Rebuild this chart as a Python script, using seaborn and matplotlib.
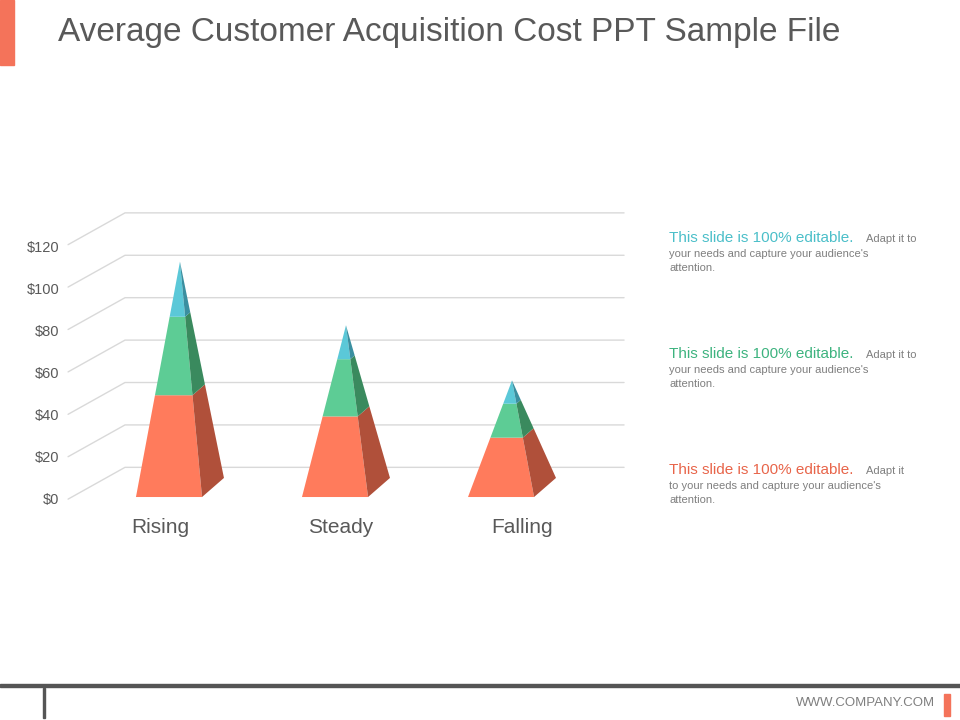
import matplotlib
matplotlib.use("Agg")
import matplotlib.pyplot as plt
import seaborn as sns
from matplotlib.patches import Rectangle

categories = ["Rising", "Steady", "Falling"]
bottom_vals = [48, 38, 28]
middle_vals = [37, 27, 16]
top_vals = [26, 16, 11]
tick_values = [0, 20, 40, 60, 80, 100, 120]
tick_labels = ["$0", "$20", "$40", "$60", "$80", "$100", "$120"]

sns.set_theme(style="white", font="Liberation Sans")
fig = plt.figure(figsize=(9.6, 7.2), dpi=100)
W, H = 960, 720
ax = fig.add_axes([40 / W, 1 - 560 / H, 600 / W, 380 / H])
ax.set_xlim(-0.777, 2.837)
ax.set_ylim(-29.7, 149.5)
ax.axis("off")

grid_c = "#d9d9d9"
for v, lab in zip(tick_values, tick_labels):
    ax.plot([-0.608, -0.265, 2.741], [v - 1, v + 14, v + 14], color=grid_c, lw=1, zorder=1)
    ax.text(-0.66, v * 0.99 - 1.5, lab, ha="right", va="center", fontsize=10.5, color="#595959")

front_cols = ["#FF7B5C", "#5DCC95", "#5BC8D8"]
side_cols = ["#B0503A", "#3A8A5E", "#3A8FA0"]

def lerp(p, q, t):
    return (p[0] + (q[0] - p[0]) * t, p[1] + (q[1] - p[1]) * t)

for i, cat in enumerate(categories):
    segs = [bottom_vals[i], middle_vals[i], top_vals[i]]
    Ht = sum(segs)
    c = i
    apex = (c + 0.066, Ht)
    fl, fr = (c - 0.199, 0), (c + 0.199, 0)
    sb = (c + 0.331, 9)
    cum = 0
    for s, fc, sc in zip(segs, front_cols, side_cols):
        t0, t1 = cum / Ht, (cum + s) / Ht
        cum += s
        pts = [lerp(fl, apex, t0), lerp(fr, apex, t0), lerp(fr, apex, t1), lerp(fl, apex, t1)]
        ax.fill([p[0] for p in pts], [p[1] for p in pts], color=fc, lw=0, zorder=3)
        pts = [lerp(fr, apex, t0), lerp(sb, apex, t0), lerp(sb, apex, t1), lerp(fr, apex, t1)]
        ax.fill([p[0] for p in pts], [p[1] for p in pts], color=sc, lw=0, zorder=3)
    ax.text(c - 0.054 + 0.09 * i, -14.6, cat, ha="center", va="center", fontsize=15, color="#595959")

fig.text(58 / W, 1 - 33 / H, "Average Customer Acquisition Cost PPT Sample File",
         fontsize=24, color="#595959", va="center", ha="left")
fig.patches.append(Rectangle((0, 1 - 65 / H), 14 / W, 65 / H, transform=fig.transFigure, color="#F4735A"))
fig.patches.append(Rectangle((0, 1 - 687 / H), 1, 3 / H, transform=fig.transFigure, color="#555555"))
fig.patches.append(Rectangle((43 / W, 1 - 718 / H), 2 / W, 30 / H, transform=fig.transFigure, color="#555555"))
fig.patches.append(Rectangle((944 / W, 1 - 716 / H), 6 / W, 22 / H, transform=fig.transFigure, color="#F4735A"))
fig.text(935 / W, 1 - 703 / H, "WWW.COMPANY.COM", fontsize=9.5, color="#7f7f7f", ha="right", va="center")

blocks = [
    (238, "#4BBFC9", ["Adapt it to", "your needs and capture your audience's", "attention."]),
    (354, "#3DB37F", ["Adapt it to", "your needs and capture your audience's", "attention."]),
    (470, "#E8654A", ["Adapt it", "to your needs and capture your audience's", "attention."]),
]
for y, col, lines in blocks:
    fig.text(669 / W, 1 - y / H, "This slide is 100% editable.", fontsize=11, color=col, va="center")
    fig.text(866 / W, 1 - (y + 1) / H, lines[0], fontsize=8, color="#7f7f7f", va="center")
    fig.text(669 / W, 1 - (y + 16) / H, lines[1], fontsize=8, color="#7f7f7f", va="center")
    fig.text(669 / W, 1 - (y + 30) / H, lines[2], fontsize=8, color="#7f7f7f", va="center")

fig.savefig("out.png", dpi=100)
